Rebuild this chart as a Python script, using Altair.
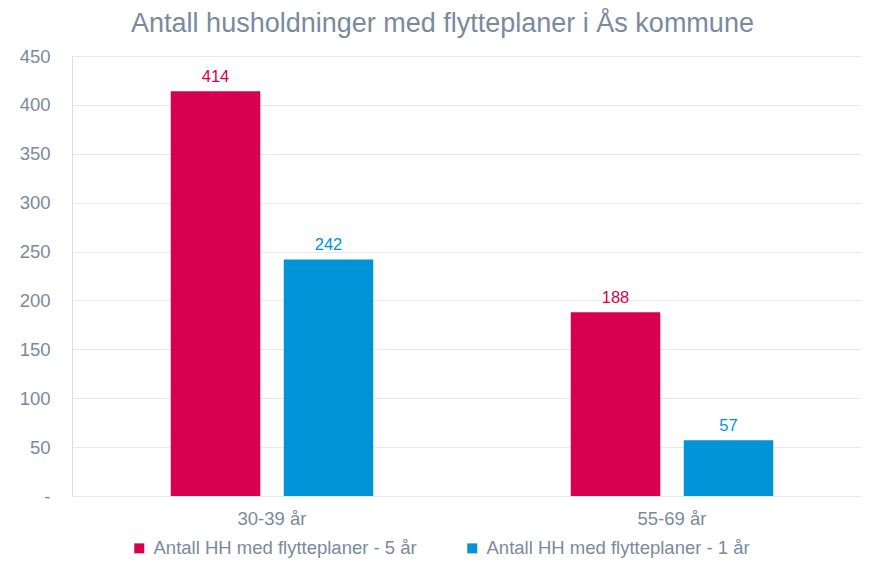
import altair as alt
import pandas as pd

categories = ["30-39 år", "55-69 år"]
series = ["Antall HH med flytteplaner - 5 år", "Antall HH med flytteplaner - 1 år"]
values_5 = [414, 188]
values_1 = [242, 57]
colors = ["#D6004F", "#0094D6"]
y_ticks = [0, 50, 100, 150, 200, 250, 300, 350, 400, 450]

rows = []
for i, c in enumerate(categories):
    rows.append({"kategori": c, "serie": series[0], "verdi": values_5[i]})
    rows.append({"kategori": c, "serie": series[1], "verdi": values_1[i]})
df = pd.DataFrame(rows)

FONT = "Liberation Sans"
GREY = "#7A8A9E"

x = alt.X("kategori:N", sort=categories, title=None,
          scale=alt.Scale(range=[0, 800], paddingInner=0, paddingOuter=0),
          axis=alt.Axis(labelAngle=0, ticks=False, domain=False, labelFontSize=18.5,
                        labelColor=GREY, labelFont=FONT, labelPadding=13))
xo = alt.XOffset("serie:N", sort=series,
                 scale=alt.Scale(paddingInner=0.208, paddingOuter=0.874))
y = alt.Y("verdi:Q", title=None,
          scale=alt.Scale(domain=[0, 450], nice=False),
          axis=alt.Axis(values=y_ticks, ticks=False, domain=False, labelFontSize=18.5,
                        labelColor=GREY, labelFont=FONT, labelPadding=22,
                        gridColor="#E8E8EE", gridWidth=1,
                        labelExpr="datum.value == 0 ? '-' : datum.label"))
color = alt.Color("serie:N", sort=series,
                  scale=alt.Scale(domain=series, range=colors),
                  legend=alt.Legend(title=None, orient="none", direction="horizontal",
                                    legendX=58, legendY=483, symbolType="square",
                                    symbolSize=100, symbolStrokeWidth=0,
                                    labelFontSize=18.5, labelColor=GREY, labelFont=FONT,
                                    labelOffset=5, columnPadding=46, labelLimit=400))

base = alt.Chart(df).encode(x=x, xOffset=xo, y=y)
bars = base.mark_bar().encode(color=color)
labels = base.mark_text(baseline="alphabetic", dy=-9, fontSize=16.5, font=FONT).encode(
    text="verdi:Q",
    color=alt.Color("serie:N", sort=series, scale=alt.Scale(domain=series, range=colors), legend=None))

chart = (bars + labels).properties(
    width=789, height=440,
    autosize=alt.AutoSizeParams(type="none"),
    padding={"left": 64, "top": 48, "right": 0, "bottom": 64},
    title=alt.TitleParams("Antall husholdninger med flytteplaner i Ås kommune",
                          fontSize=27, font=FONT, color=GREY, fontWeight="normal",
                          anchor="middle", dx=-24, offset=9),
).configure_view(stroke=None).configure(background="white")

chart.save("out.html", embed_options={"renderer": "svg", "actions": False})
